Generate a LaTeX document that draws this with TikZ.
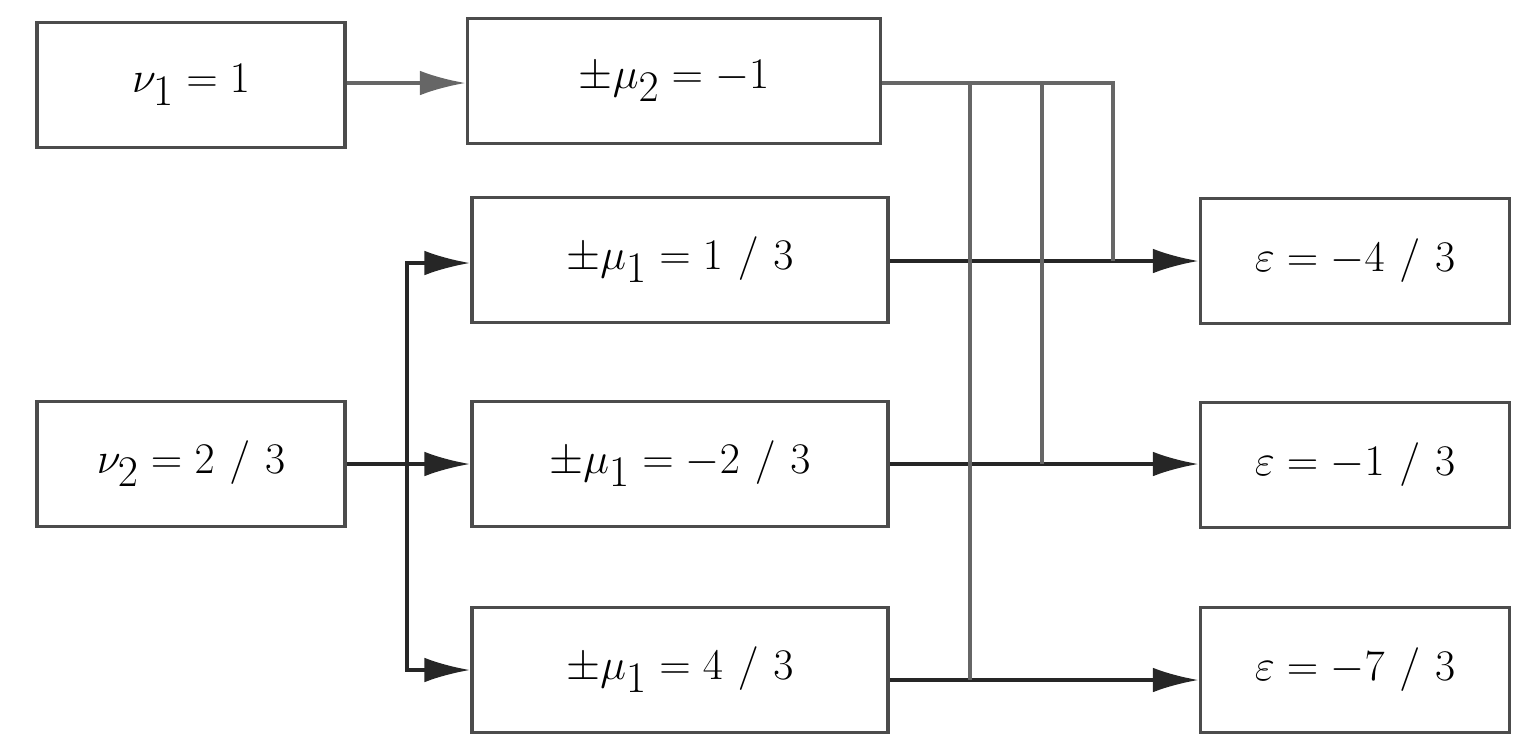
\documentclass[tikz,border=0pt]{standalone}
\usetikzlibrary{arrows.meta}
\begin{document}
\begin{tikzpicture}[x=0.02cm,y=-0.02cm,
  box/.style={draw=black!70,line width=2.2pt,minimum width=#1*0.02cm,minimum height=2.5cm,inner sep=0pt,font=\fontsize{64}{70}\selectfont},
  ln/.style={draw=black!60,line width=2pt},
  ar/.style={draw=black!85,line width=2pt,-{Latex[length=26pt,width=14pt]}}]
\useasboundingbox (0,0) rectangle (1532,752);
\newcommand{\myslash}{\mskip6mu/\mskip6mu}
\node[box=308] (v1) at (191,85) {$\nu_1=1$};
\node[box=413] (m2) at (674,81) {$\pm\mu_2=-1$};
\node[box=416] (a) at (680,260) {$\pm\mu_1=1\myslash 3$};
\node[box=308] (v2) at (191,464) {$\nu_2=2\myslash 3$};
\node[box=416] (b) at (680,464) {$\pm\mu_1=-2\myslash 3$};
\node[box=416] (c) at (680,670) {$\pm\mu_1=4\myslash 3$};
\node[box=309] (e1) at (1355,261) {$\varepsilon=-4\myslash 3$};
\node[box=309] (e2) at (1355,465) {$\varepsilon=-1\myslash 3$};
\node[box=309] (e3) at (1355,670) {$\varepsilon=-7\myslash 3$};
\coordinate (s) at (407,464);
\draw[ar,draw=black!60] (v1.east|-0,83) -- (m2.west|-0,83);
\draw[ar] (v2) -- (b);
\draw[ar] (s) |- (a.west|-0,263);
\draw[ar] (s) |- (c.west|-0,670);
\draw[ar] (a.east|-0,261) -- (e1.west|-0,261);
\draw[ar] (b.east|-0,464) -- (e2.west|-0,464);
\draw[ar] (c.east|-0,680) -- (e3.west|-0,680);
\draw[ln] (m2.east|-0,83) -- (1113,83) -- (1113,261);
\draw[ln] (970,83) -- (970,680);
\draw[ln] (1042,83) -- (1042,464);
\end{tikzpicture}
\end{document}
